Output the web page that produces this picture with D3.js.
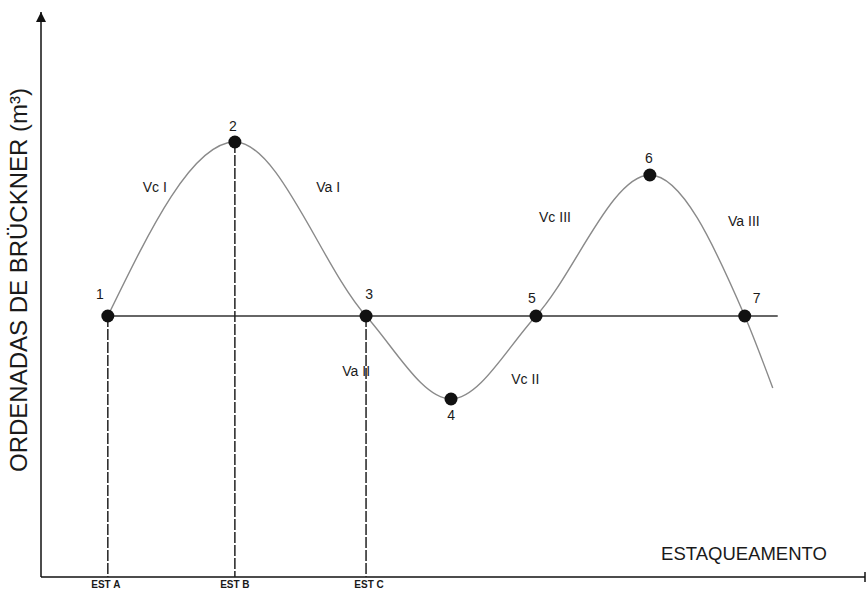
<!DOCTYPE html>
<html><head><meta charset="utf-8">
<script src="https://cdn.jsdelivr.net/npm/d3@7"></script>
<style>body{margin:0;background:#fff}svg{display:block}text{font-family:"Liberation Sans",Arial,sans-serif;fill:#1a1a1a}</style>
</head><body><svg id="c" width="866" height="589"></svg>
<script>
// Data (abstract units)
const pointIds = ["1","2","3","4","5","6","7"];
const pointX = [8.1, 23.5, 39.4, 49.7, 60.0, 73.8, 85.3];
const pointY = [0, 87, 0, -41.5, 0, 70.5, 0];
const tailX = [88.7];
const tailY = [-36];
const segmentLabels = ["Vc I", "Va I", "Va II", "Vc II", "Vc III", "Va III"];
const segmentLabelX = [13.8, 34.8, 38.2, 58.7, 62.3, 85.2];
const segmentLabelY = [62, 62, -30, -34, 47, 45];
const stations = ["EST A", "EST B", "EST C"];
const stationX = [8.1, 23.5, 39.4];
const baselineEnd = 89.3;
const xTitle = "ESTAQUEAMENTO";
const yTitle = "ORDENADAS DE BRÜCKNER (m³)";

const svg = d3.select("#c");
const x = d3.scaleLinear().domain([0, 100]).range([41, 866]);
const y = d3.scaleLinear().domain([-130.5, 152]).range([577, 12]);

svg.append("defs").append("marker").attr("id","arr").attr("viewBox","0 0 10 10")
  .attr("refX",10).attr("refY",5).attr("markerWidth",10).attr("markerHeight",10)
  .attr("markerUnits","userSpaceOnUse").attr("orient","auto")
  .append("path").attr("d","M0,0L10,5L0,10Z").attr("fill","#111");

// y axis
svg.append("line").attr("x1",x(0)).attr("x2",x(0)).attr("y1",y(-130.5)).attr("y2",y(152))
  .attr("stroke","#111").attr("stroke-width",1.5).attr("marker-end","url(#arr)");
// x axis
svg.append("line").attr("x1",x(0)).attr("x2",x(100)-1).attr("y1",y(-130.5)).attr("y2",y(-130.5))
  .attr("stroke","#111").attr("stroke-width",1.5);
svg.append("line").attr("x1",x(100)-1).attr("x2",x(100)-1).attr("y1",y(-130.5)-5).attr("y2",y(-130.5)+5)
  .attr("stroke","#111").attr("stroke-width",1.5);

// baseline
svg.append("line").attr("x1",x(pointX[0])).attr("x2",x(baselineEnd)).attr("y1",y(0)).attr("y2",y(0))
  .attr("stroke","#333").attr("stroke-width",1.5);

// dashed station lines
const stLabOff = [-2, 0, 3];
stationX.forEach((sx,i)=>{
  const pi = pointX.indexOf(sx);
  svg.append("line").attr("x1",x(sx)).attr("x2",x(sx)).attr("y1",y(pointY[pi])).attr("y2",y(-130.5))
    .attr("stroke","#222").attr("stroke-width",1.5).attr("stroke-dasharray","11,2");
  svg.append("text").attr("x",x(sx)+stLabOff[i]).attr("y",y(-130.5)+11).attr("text-anchor","middle")
    .attr("font-size",10).attr("font-weight","bold").text(stations[i]);
});

// curve
const curvePts = pointX.map((v,i)=>[v,pointY[i]]).concat(tailX.map((v,i)=>[v,tailY[i]]));
svg.append("path").datum(curvePts)
  .attr("d", d3.line().x(d=>x(d[0])).y(d=>y(d[1])).curve(d3.curveMonotoneX))
  .attr("fill","none").attr("stroke","#8a8a8a").attr("stroke-width",1.4);

// points
svg.selectAll("circle.p").data(pointX).enter().append("circle")
  .attr("cx",(d)=>x(d)).attr("cy",(d,i)=>y(pointY[i])).attr("r",6.5).attr("fill","#111");

// point labels
const labOff = [[-8,-17],[-2,-11],[3,-17],[0,21],[-4,-13],[-1,-12],[12,-13]];
pointIds.forEach((id,i)=>{
  svg.append("text").attr("x",x(pointX[i])+labOff[i][0]).attr("y",y(pointY[i])+labOff[i][1])
    .attr("text-anchor","middle").attr("font-size",14).text(id);
});

// segment labels
segmentLabels.forEach((t,i)=>{
  svg.append("text").attr("x",x(segmentLabelX[i])).attr("y",y(segmentLabelY[i]))
    .attr("text-anchor","middle").attr("font-size",14).text(t);
});

// titles
svg.append("text").attr("x",744).attr("y",560).attr("text-anchor","middle").attr("font-size",18.5).text(xTitle);
svg.append("text").attr("transform","translate(27,280) rotate(-90)").attr("text-anchor","middle")
  .attr("font-size",24).text(yTitle);
</script></body></html>
